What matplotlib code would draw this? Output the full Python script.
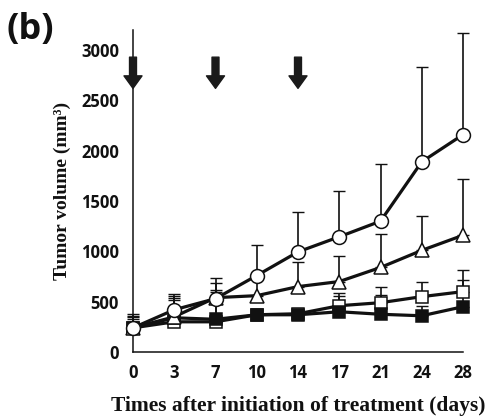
import matplotlib
matplotlib.use("Agg")
import matplotlib.pyplot as plt
import numpy as np

days = ["0", "3", "7", "10", "14", "17", "21", "24", "28"]
y_ticks = [0, 500, 1000, 1500, 2000, 2500, 3000]

circle_vals = [240, 420, 530, 760, 995, 1145, 1300, 1890, 2160]
circle_top = [380, 575, 740, 1065, 1395, 1600, 1870, 2830, 3170]
tri_vals = [240, 350, 540, 560, 650, 700, 840, 1010, 1160]
tri_top = [360, 560, 690, 760, 890, 955, 1170, 1350, 1720]
osq_vals = [240, 300, 300, 370, 380, 460, 490, 550, 600]
osq_top = [330, 540, 620, 420, 420, 590, 645, 700, 810]
fsq_vals = [240, 340, 325, 370, 370, 400, 375, 360, 450]
fsq_top = [350, 520, 600, 430, 420, 560, 570, 460, 720]
arrow_days = ["0", "7", "14"]

fig = plt.figure(figsize=(4.9, 4.16), dpi=100)
ax = fig.add_axes([133/490, 1-352/416, 330/490, 322/416])
x = np.arange(len(days))

series = [
    (circle_vals, circle_top, 'o', 'white', 10, 8),
    (tri_vals, tri_top, '^', 'white', 10, 7),
    (osq_vals, osq_top, 's', 'white', 8.5, 5),
    (fsq_vals, fsq_top, 's', '#111111', 8.5, 6),
]
for vals, top, m, fc, ms, z in series:
    vals = np.array(vals); top = np.array(top)
    err = np.vstack([np.zeros_like(vals), top - vals])
    ax.errorbar(x, vals, yerr=err, fmt='none', ecolor='#111111', elinewidth=1.2,
                capsize=4, capthick=1.0, zorder=2, clip_on=False)
for vals, top, m, fc, ms, z in series:
    ax.plot(x, vals, color='#111111', lw=2.3, marker=m, markersize=ms,
            markerfacecolor=fc, markeredgecolor='#111111', markeredgewidth=1.1,
            zorder=z, clip_on=False)

for d in arrow_days:
    xi = days.index(d)
    ax.annotate('', xy=(xi, 2620), xytext=(xi, 2930),
                arrowprops=dict(width=5, headwidth=13, headlength=9, color='#1a1a1a', shrink=0),
                zorder=10, annotation_clip=False)

ax.set_xlim(0, 8)
ax.set_ylim(0, 3200)
ax.set_xticks(x)
ax.set_xticklabels(days)
ax.set_yticks(y_ticks)
ax.set_yticklabels([str(v) for v in y_ticks])
for lab in ax.get_xticklabels() + ax.get_yticklabels():
    lab.set_fontfamily('Open Sans')
    lab.set_fontweight('bold')
    lab.set_fontsize(12)
    lab.set_color('#111111')
ax.tick_params(length=0, pad=9)
ax.tick_params(axis='y', pad=10)
for s in ['top', 'right']:
    ax.spines[s].set_visible(False)
for s in ['left', 'bottom']:
    ax.spines[s].set_linewidth(1.1)
    ax.spines[s].set_color('#111111')

ax.set_ylabel('Tumor volume (mm\u00b3)', fontfamily='Liberation Serif', fontweight='bold',
              fontsize=14, color='#111111', labelpad=7)
ax.set_xlabel('Times after initiation of treatment (days)', fontfamily='Liberation Serif',
              fontweight='bold', fontsize=15.5, color='#111111', labelpad=10)
fig.text(6/490, 1-30/416, '(b)', fontfamily='Open Sans', fontweight='bold', fontsize=26,
         va='center', ha='left', color='#111111')

fig.savefig('out.png', dpi=100)
